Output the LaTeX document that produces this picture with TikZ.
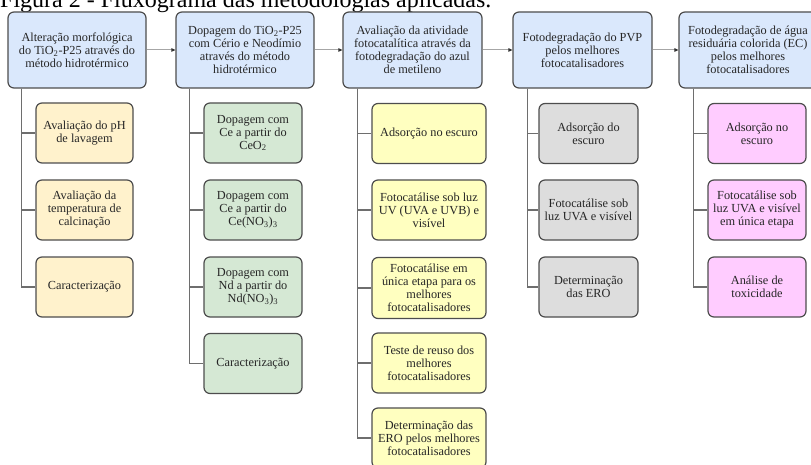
\documentclass[tikz,border=0pt]{standalone}
\usepackage{fontspec}
\setmainfont{Liberation Serif}
\usetikzlibrary{arrows.meta,calc}
\definecolor{hdrfill}{HTML}{DAE8FC}
\definecolor{peachfill}{HTML}{FFF2CC}
\definecolor{greenfill}{HTML}{D5E8D4}
\definecolor{yelfill}{HTML}{FFFFC0}
\definecolor{greyfill}{HTML}{DDDDDD}
\definecolor{pinkfill}{HTML}{FFCCFF}
\definecolor{edgecol}{HTML}{4D4D4D}
\definecolor{txtcol}{HTML}{262626}
\definecolor{linecol}{HTML}{6E6E6E}
\tikzset{
  basebox/.style={draw=edgecol, line width=1.2pt, rounded corners=6pt, align=center,
    inner sep=0pt, text=txtcol, font=\fontsize{12.3}{13}\selectfont},
  hdr/.style={basebox, fill=hdrfill, minimum width=138pt, minimum height=76pt},
  child/.style={basebox, minimum width=98pt, minimum height=60pt},
  trunk/.style={draw=linecol, line width=1.2pt},
  flowarrow/.style={draw=gray!70, line width=1pt, -{Triangle[length=4pt,width=3.5pt,fill=black!80,color=black!80]}},
}
\begin{document}
\begin{tikzpicture}[x=1pt,y=-1pt]
\useasboundingbox (0,0) rectangle (811,465);
\clip (0,0) rectangle (811,465);
\fill[white] (0,0) rectangle (811,465);

\node[anchor=base west, inner sep=0pt, text=black, font=\fontsize{24}{28}\selectfont] (title) at (0,7.5) {Figura 2 - Fluxograma das metodologias aplicadas.};

% headers
\node[hdr] (h1) at (77,50) {Alteração morfológica\\do TiO\textsubscript{2}-P25 através do\\método hidrotérmico};
\node[hdr] (h2) at (245,50) {Dopagem do TiO\textsubscript{2}-P25\\com Cério e Neodímio\\através do método\\hidrotérmico};
\node[hdr, minimum width=139pt] (h3) at (412.5,50) {Avaliação da atividade\\fotocatalítica através da\\fotodegradação do azul\\de metileno};
\node[hdr, minimum width=139pt] (h4) at (582.5,50) {Fotodegradação do PVP\\pelos melhores\\fotocatalisadores};
\node[hdr] (h5) at (748,50) {Fotodegradação de água\\residuária colorida (EC)\\pelos melhores\\fotocatalisadores};

\draw[flowarrow] (h1.east) -- (h2.west);
\draw[flowarrow] (h2.east) -- (h3.west);
\draw[flowarrow] (h3.east) -- (h4.west);
\draw[flowarrow] (h4.east) -- (h5.west);

% trunk start points
\coordinate (t1) at ($(h1.south west)+(14,0)$);
\coordinate (t2) at ($(h2.south west)+(14,0)$);
\coordinate (t3) at ($(h3.south west)+(15,0)$);
\coordinate (t4) at ($(h4.south west)+(15,0)$);
\coordinate (t5) at ($(h5.south west)+(15,0)$);

% column 1
\node[child, fill=peachfill, minimum width=97pt] (c11) at (84.5,133) {Avaliação do pH\\de lavagem};
\node[child, fill=peachfill, minimum width=97pt] (c12) at (84.5,210) {Avaliação da\\temperatura de\\calcinação};
\node[child, fill=peachfill, minimum width=97pt] (c13) at (84.5,287) {Caracterização};

% column 2
\node[child, fill=greenfill] (c21) at (253,133) {Dopagem com\\Ce a partir do\\CeO\textsubscript{2}};
\node[child, fill=greenfill] (c22) at (253,210) {Dopagem com\\Ce a partir do\\Ce(NO\textsubscript{3})\textsubscript{3}};
\node[child, fill=greenfill] (c23) at (253,287) {Dopagem com\\Nd a partir do\\Nd(NO\textsubscript{3})\textsubscript{3}};
\node[child, fill=greenfill] (c24) at (253,363.5) {Caracterização};

% column 3
\node[child, fill=yelfill, minimum width=114pt] (c31) at (429,133.5) {Adsorção no escuro};
\node[child, fill=yelfill, minimum width=114pt] (c32) at (429,210) {Fotocatálise sob luz\\UV (UVA e UVB) e\\visível};
\node[child, fill=yelfill, minimum width=114pt, minimum height=61pt] (c33) at (429,288) {Fotocatálise em\\única etapa para os\\melhores\\fotocatalisadores};
\node[child, fill=yelfill, minimum width=114pt] (c34) at (429,363) {Teste de reuso dos\\melhores\\fotocatalisadores};
\node[child, fill=yelfill, minimum width=114pt] (c35) at (429,438) {Determinação das\\ERO pelos melhores\\fotocatalisadores};

% column 4
\node[child, fill=greyfill, minimum width=99pt] (c41) at (588.5,133.5) {Adsorção do\\escuro};
\node[child, fill=greyfill, minimum width=99pt] (c42) at (588.5,210) {Fotocatálise sob\\luz UVA e visível};
\node[child, fill=greyfill, minimum width=99pt] (c43) at (588.5,287) {Determinação\\das ERO};

% column 5
\node[child, fill=pinkfill] (c51) at (757,133.5) {Adsorção no\\escuro};
\node[child, fill=pinkfill] (c52) at (757,210) {Fotocatálise sob\\luz UVA e visível\\em única etapa};
\node[child, fill=pinkfill] (c53) at (757,287) {Análise de\\toxicidade};

% connectors
\foreach \c in {c11,c12,c13} \draw[trunk] (t1) |- (\c.west);
\foreach \c in {c21,c22,c23,c24} \draw[trunk] (t2) |- (\c.west);
\foreach \c in {c31,c32,c33,c34,c35} \draw[trunk] (t3) |- (\c.west);
\foreach \c in {c41,c42,c43} \draw[trunk] (t4) |- (\c.west);
\foreach \c in {c51,c52,c53} \draw[trunk] (t5) |- (\c.west);
\end{tikzpicture}
\end{document}
